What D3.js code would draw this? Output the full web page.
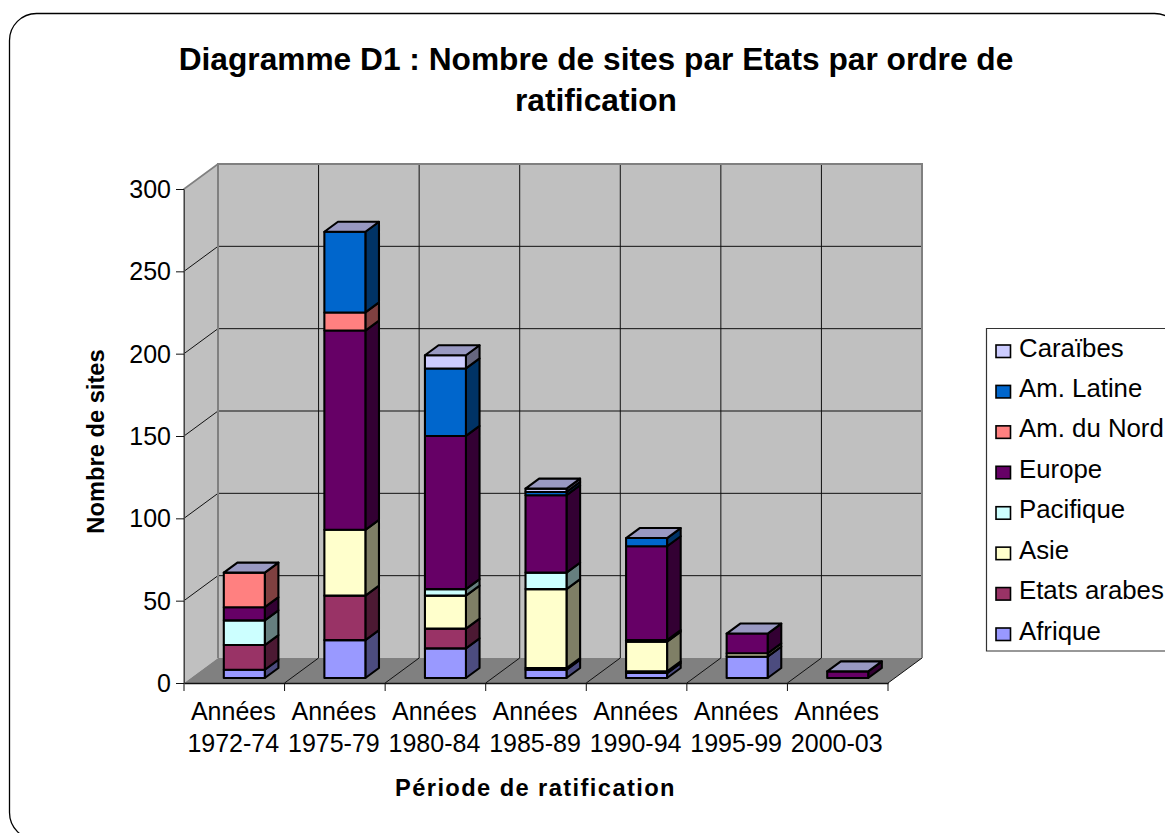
<!DOCTYPE html>
<html><head><meta charset="utf-8">
<script src="https://cdnjs.cloudflare.com/ajax/libs/d3/7.8.5/d3.min.js"></script>
<style>
html,body{margin:0;padding:0;background:#fff;overflow:hidden}
svg{display:block;font-family:"Liberation Sans",Arial,sans-serif}
</style></head><body><svg id="c" width="1165" height="833"></svg>
<script>
const titleLines = ["Diagramme D1 : Nombre de sites par Etats par ordre de","ratification"];
const yAxisTitle = "Nombre de sites";
const xAxisTitle = "Période de ratification";
const categories = ["Années 1972-74","Années 1975-79","Années 1980-84","Années 1985-89","Années 1990-94","Années 1995-99","Années 2000-03"];
const seriesNames = ["Afrique","Etats arabes","Asie","Pacifique","Europe","Am. du Nord","Am. Latine","Caraïbes"];
const seriesColors = ["#9999FF","#993366","#FFFFCC","#CCFFFF","#660066","#FF8080","#0066CC","#CCCCFF"];
const afrique    = [5,23,18,5,3,13,0];
const etatsArabes= [15,27,12,1,1,0,0];
const asie       = [0,40,20,48,18,2,0];
const pacifique  = [15,0,4,10,1,0,0];
const europe     = [8,121,93,47,57,12,4];
const amNord     = [21,11,0,0,0,0,0];
const amLatine   = [0,49,41,2,5,0,0];
const caraibes   = [0,0,8,2,0,0,0];
const seriesValues = [afrique,etatsArabes,asie,pacifique,europe,amNord,amLatine,caraibes];
const yTicks = [0,50,100,150,200,250,300];

const svg = d3.select("#c");
const y = d3.scaleLinear().domain([0,300]).range([683,189]);
const x = d3.scaleBand().domain(categories).range([184,888]);
// depth of the oblique projection: 0 = front edge of floor, 1 = back wall
const dx = d3.scaleLinear().domain([0,1]).range([0,34]);
const dy = d3.scaleLinear().domain([0,1]).range([0,-25]);
const P = (px,py,d)=>[px+dx(d),py+dy(d)];
const poly = pts => pts.map(p=>p.join(",")).join(" ");

// outer frame (runs past the page on the right and the bottom)
svg.append("rect").attr("x",9.5).attr("y",13.5).attr("width",1172).attr("height",826)
  .attr("rx",27).attr("ry",27).attr("fill","#fff").attr("stroke","#000").attr("stroke-width",1.3);

// title
svg.append("g").selectAll("text").data(titleLines).join("text")
  .attr("x",596).attr("y",(d,i)=>70+i*41)
  .attr("text-anchor","middle").attr("font-weight","bold").attr("font-size",31.7).attr("fill","#000")
  .text(d=>d);

const x0=184,x1=888,yB=y(0),yT=y(300);
// walls
svg.append("polygon").attr("points",poly([P(x0,yB,0),P(x0,yB,1),P(x0,yT,1),P(x0,yT,0)])).attr("fill","#C0C0C0");
svg.append("polygon").attr("points",poly([P(x0,yB,1),P(x1,yB,1),P(x1,yT,1),P(x0,yT,1)])).attr("fill","#C0C0C0");
svg.append("polygon").attr("points",poly([P(x0,yB,0),P(x0,yB,1),P(x1,yB,1),P(x1,yB,0)])).attr("fill","#808080");

// gridlines
const lines=(sel,data,f,col,w)=>sel.append("g").selectAll("line").data(data).join("line")
  .attr("x1",d=>f(d)[0][0]).attr("y1",d=>f(d)[0][1]).attr("x2",d=>f(d)[1][0]).attr("y2",d=>f(d)[1][1])
  .attr("stroke",col).attr("stroke-width",w);
const inner = yTicks.slice(1,-1);
lines(svg,inner,v=>[P(x0,y(v),1),P(x1,y(v),1)],"#111",1);
lines(svg,inner,v=>[P(x0,y(v),0),P(x0,y(v),1)],"#111",1);
const cuts = categories.slice(1).map(c=>x(c));
lines(svg,cuts,c=>[P(c,yB,1),P(c,yT,1)],"#111",1);
lines(svg,cuts,c=>[P(c,yB,0),P(c,yB,1)],"#111",1);
lines(svg,[x1],c=>[P(c,yB,0),P(c,yB,1)],"#111",1);
// grey wall outlines
svg.append("polyline").attr("fill","none").attr("stroke","#808080").attr("stroke-width",2)
  .attr("points",poly([P(x0,yB,1),P(x0,yT,1),P(x1,yT,1),P(x1,yB,1)]));
svg.append("polyline").attr("fill","none").attr("stroke","#808080").attr("stroke-width",1.6)
  .attr("points",poly([P(x0,yB,0),P(x0,yT,0),P(x0,yT,1)]));

// axes
const yAxis = d3.axisLeft(y).tickValues(yTicks).tickSize(8).tickSizeOuter(0);
const gy = svg.append("g").attr("transform",`translate(${x0},0)`).call(yAxis);
gy.select(".domain").attr("stroke","#444").attr("stroke-width",1);
gy.selectAll("line").attr("stroke","#111");
gy.selectAll("text").attr("font-size",25).attr("fill","#000").attr("x",-13).attr("dy","0.34em").attr("font-family","Liberation Sans");

const xAxis = d3.axisBottom(x).tickSize(0).tickSizeOuter(0);
const gx = svg.append("g").attr("transform",`translate(0,${yB})`).call(xAxis);
gx.select(".domain").attr("stroke","#111").attr("stroke-width",1.5);
gx.selectAll("line").remove();
gx.selectAll("text").each(function(d){
  const t=d3.select(this), parts=d.split(" ");
  t.text(null).attr("font-size",25).attr("fill","#000").attr("font-family","Liberation Sans").attr("y",0).attr("dy",null);
  parts.forEach((p,i)=>t.append("tspan").attr("x",-1).attr("y",i?69:37).text(p));
});
svg.append("g").selectAll("line").data([...categories.map(c=>x(c)),x1]).join("line")
  .attr("x1",d=>d).attr("x2",d=>d).attr("y1",yB).attr("y2",yB+8).attr("stroke","#111");

// stacked 3D bars
const stack = d3.stack().keys(d3.range(seriesNames.length)).value((row,k)=>row[k]);
const rows = categories.map((c,i)=>seriesValues.map(s=>s[i]));
const stacked = stack(rows);
const barW = 41, d0 = 0.2, d1 = 0.6, barInset = 33;
const side = c => d3.color(c).darker(1.95).formatHex();
const sw = 2.1;
categories.forEach((c,i)=>{
  const bx = x(c)+barInset;
  const g = svg.append("g");
  const total = d3.sum(rows[i]);
  stacked.forEach((layer,k)=>{
    const [a,b]=layer[i];
    if(b-a<=0) return;
    const col=seriesColors[k];
    g.append("polygon").attr("points",poly([P(bx+barW,y(a),d0),P(bx+barW,y(a),d1),P(bx+barW,y(b),d1),P(bx+barW,y(b),d0)]))
      .attr("fill",side(col)).attr("stroke","#000").attr("stroke-width",sw).attr("stroke-linejoin","round");
    g.append("polygon").attr("points",poly([P(bx,y(a),d0),P(bx+barW,y(a),d0),P(bx+barW,y(b),d0),P(bx,y(b),d0)]))
      .attr("fill",col).attr("stroke","#000").attr("stroke-width",sw).attr("stroke-linejoin","round");
  });
  g.append("polygon").attr("points",poly([P(bx,y(total),d0),P(bx+barW,y(total),d0),P(bx+barW,y(total),d1),P(bx,y(total),d1)]))
    .attr("fill","#9999C2").attr("stroke","#000").attr("stroke-width",sw).attr("stroke-linejoin","round");
});

// axis titles
svg.append("text").attr("transform","translate(104,441.5) rotate(-90)").attr("text-anchor","middle")
  .attr("font-weight","bold").attr("font-size",23.7).attr("fill","#000").text(yAxisTitle);
svg.append("text").attr("x",535.5).attr("y",796).attr("text-anchor","middle").attr("letter-spacing","1.4px")
  .attr("font-weight","bold").attr("font-size",23.7).attr("fill","#000").text(xAxisTitle);

// legend
const legendOrder = d3.range(seriesNames.length).reverse();
const ly = d3.scalePoint().domain(legendOrder).range([348,631]);
svg.append("path").attr("d","M1170,328.5H986.5V651H1170").attr("fill","#fff").attr("stroke","#333").attr("stroke-width",1.2);
const lg = svg.append("g").selectAll("g").data(legendOrder).join("g").attr("transform",k=>`translate(0,${ly(k)})`);
lg.append("rect").attr("x",996).attr("y",-3).attr("width",14.5).attr("height",12.5)
  .attr("fill",k=>seriesColors[k]).attr("stroke","#000").attr("stroke-width",1.6);
lg.append("text").attr("x",1019).attr("y",8.5).attr("font-size",25.8).attr("fill","#000").text(k=>seriesNames[k]);
</script></body></html>
